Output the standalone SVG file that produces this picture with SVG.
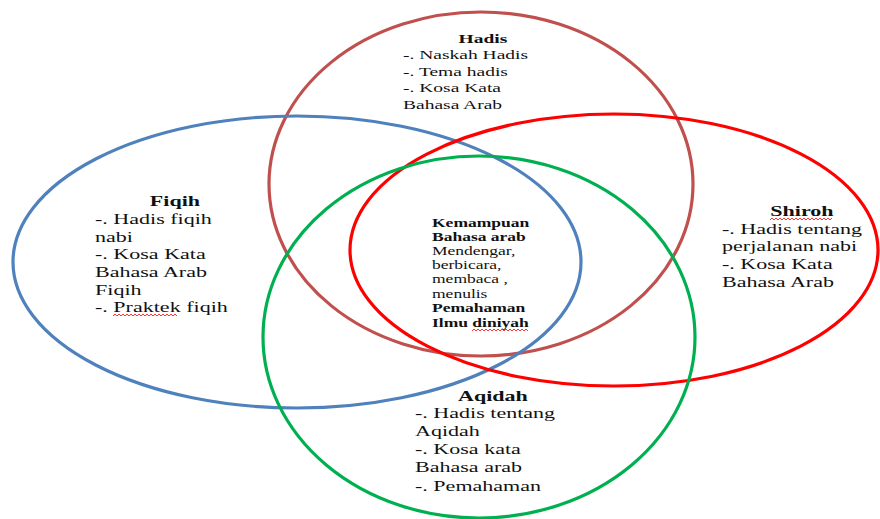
<svg xmlns="http://www.w3.org/2000/svg" width="880" height="519" viewBox="0 0 880 519">
<style>
.e{fill:none;stroke-width:3.2}
text{font-family:'Liberation Serif','Times New Roman',serif;fill:#111}
.t{font-size:15px}
.s{font-size:13px}
.c{font-size:12px}
.b{font-weight:bold}
.m{text-anchor:middle}
.w{fill:none;stroke:#ff3333;stroke-width:1}
</style>
<rect width="880" height="519" fill="#fff"/>
<g id="connectors"></g>
<g id="hadis">
<ellipse class="e" cx="481" cy="184" rx="212" ry="172" stroke="#C0504D"/>
<g transform="translate(403,0) scale(1.5,1)">
<text class="s b m" x="53.3" y="43">Hadis</text>
<text class="s" x="0" y="59">-. Naskah Hadis</text>
<text class="s" x="0" y="76">-. Tema hadis</text>
<text class="s" x="0" y="92">-. Kosa Kata</text>
<text class="s" x="0" y="109">Bahasa Arab</text>
</g>
</g>
<g id="fiqih">
<ellipse class="e" cx="297" cy="262" rx="284" ry="146" stroke="#4F81BD"/>
<g transform="translate(95,0) scale(1.47,1)">
<text class="t b m" x="54.4" y="206">Fiqih</text>
<text class="t" x="0" y="224">-. Hadis fiqih</text>
<text class="t" x="0" y="242">nabi</text>
<text class="t" x="0" y="259">-. Kosa Kata</text>
<text class="t" x="0" y="277">Bahasa Arab</text>
<text class="t" x="0" y="295">Fiqih</text>
<text class="t" x="0" y="312">-. Praktek fiqih</text>
</g>
<path class="w" d="M113 316 l2 -2 l2 2 l2 -2 l2 2 l2 -2 l2 2 l2 -2 l2 2 l2 -2 l2 2 l2 -2 l2 2 l2 -2 l2 2 l2 -2 l2 2 l2 -2 l2 2 l2 -2 l2 2 l2 -2 l2 2 l2 -2 l2 2 l2 -2 l2 2 l2 -2 l2 2 l2 -2 l2 2 l2 -2 l2 2"/>
</g>
<g id="shiroh">
<ellipse class="e" cx="614" cy="250" rx="264" ry="136" stroke="#FF0000"/>
<g transform="translate(722,0) scale(1.47,1)">
<text class="t b m" x="54.4" y="216">Shiroh</text>
<text class="t" x="0" y="234">-. Hadis tentang</text>
<text class="t" x="0" y="251">perjalanan nabi</text>
<text class="t" x="0" y="269">-. Kosa Kata</text>
<text class="t" x="0" y="287">Bahasa Arab</text>
</g>
<path class="w" d="M770 220 l2 -2 l2 2 l2 -2 l2 2 l2 -2 l2 2 l2 -2 l2 2 l2 -2 l2 2 l2 -2 l2 2 l2 -2 l2 2 l2 -2 l2 2 l2 -2 l2 2 l2 -2 l2 2 l2 -2 l2 2 l2 -2 l2 2 l2 -2 l2 2 l2 -2 l2 2 l2 -2 l2 2 l2 -2"/>
</g>
<g id="aqidah">
<ellipse class="e" cx="479" cy="337" rx="216" ry="181" stroke="#00B050"/>
<g transform="translate(415,0) scale(1.47,1)">
<text class="t b m" x="53" y="401">Aqidah</text>
<text class="t" x="0" y="418">-. Hadis tentang</text>
<text class="t" x="0" y="436">Aqidah</text>
<text class="t" x="0" y="454">-. Kosa kata</text>
<text class="t" x="0" y="472">Bahasa arab</text>
<text class="t" x="0" y="491">-. Pemahaman</text>
</g>
</g>
<g id="center">
<g transform="translate(432,0) scale(1.46,1)">
<text class="c b" x="0" y="227">Kemampuan</text>
<text class="c b" x="0" y="241">Bahasa arab</text>
<text class="c" x="0" y="255">Mendengar,</text>
<text class="c" x="0" y="269">berbicara,</text>
<text class="c" x="0" y="283">membaca ,</text>
<text class="c" x="0" y="298">menulis</text>
<text class="c b" x="0" y="312">Pemahaman</text>
<text class="c b" x="0" y="327">Ilmu diniyah</text>
</g>
<path class="w" d="M472 331 l2 -2 l2 2 l2 -2 l2 2 l2 -2 l2 2 l2 -2 l2 2 l2 -2 l2 2 l2 -2 l2 2 l2 -2 l2 2 l2 -2 l2 2 l2 -2 l2 2 l2 -2 l2 2 l2 -2 l2 2 l2 -2 l2 2 l2 -2 l2 2 l2 -2 l2 2"/>
</g>
</svg>
